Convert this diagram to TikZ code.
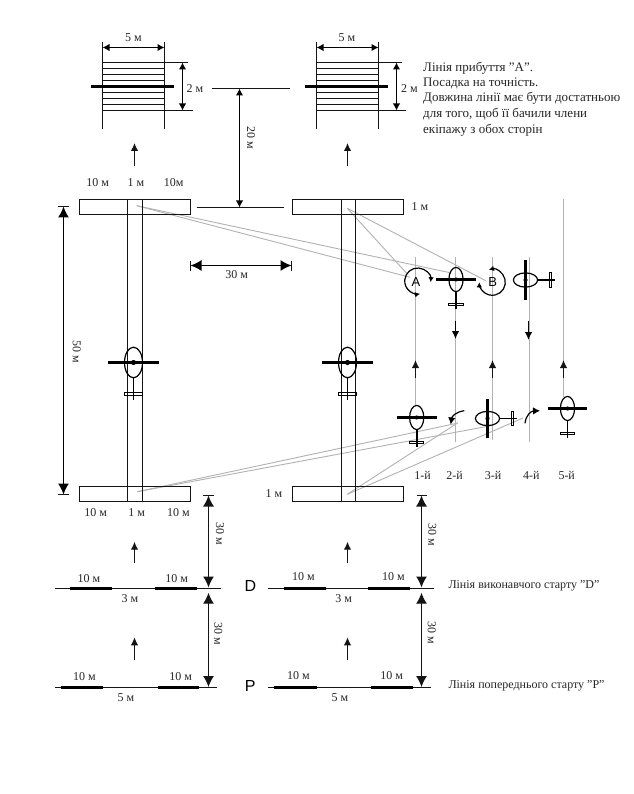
\documentclass[tikz,border=0pt]{standalone}
\usepackage{fontspec}
\setmainfont{Liberation Serif}[Ligatures=ResetAll]
\setsansfont{Liberation Sans}
\usetikzlibrary{arrows.meta}
\definecolor{ink}{gray}{0.08}
\definecolor{guide}{gray}{0.70}
\tikzset{
  ln/.style={draw=ink,line width=1.25pt},
  thin guide/.style={draw=guide,line width=0.9pt},
  thick bar/.style={draw=black,line width=3.4pt},
  dimsmall/.style={draw=black,line width=1.2pt,{Latex[length=7pt,width=7.5pt]}-{Latex[length=7pt,width=7.5pt]}},
  dimbig/.style={draw=ink,line width=1.3pt,{Latex[length=11pt,width=11pt]}-{Latex[length=11pt,width=11pt]}},
  flow/.style={draw=ink,line width=1.3pt,-{Latex[length=8pt,width=7.5pt]}},
  turn/.style={draw=black,line width=1.2pt,-{Latex[length=7pt,width=7.5pt]}},
  circ/.style={draw=black,line width=1.2pt,{Latex[length=5pt,width=5.5pt]}-{Latex[length=5pt,width=5.5pt]}},
  lab/.style={inner sep=0pt,font=\fontsize{12}{14}\selectfont,text=black!85},
  para/.style={inner sep=0pt,anchor=west,font=\fontsize{13}{15}\selectfont,text=black!85},
  sym/.style={inner sep=0pt,font=\sffamily\fontsize{16}{18}\selectfont},
  letter/.style={inner sep=0pt,font=\sffamily\fontsize{13}{15}\selectfont},
  planeup/.pic={
    \draw[draw=black,line width=1.2pt] (0,0) ellipse [x radius=9pt,y radius=15.3pt];
    \draw[draw=black,line width=1.7pt] (0,15.3) -- (0,37);
    \draw[draw=black,line width=1.1pt] (-9,30) rectangle (9,33);
    \draw[thick bar,line width=3pt] (-25.2,0) -- (25.2,0);
    \fill[black] (0,0) circle (2.6pt);
  },
  rungs/.pic={
    \draw[ln] (0,0) -- (0,86.5) (62,0) -- (62,86.5);
    \foreach \yy in {20,26,32,38,50,56,62,68} \draw[ln] (0,\yy) -- (62,\yy);
    \draw[thick bar,line width=2.2pt] (-11.5,44) -- (71.5,44);
  }
}
\begin{document}
\begin{tikzpicture}[x=1pt,y=-1pt]
\path[fill=white] (0,0) rectangle (633,794);
\useasboundingbox (0,0) rectangle (633,794);

% guide lines
\foreach \xa/\ya/\yb in {415.5/256.7/405,455.5/256.7/441.7,492.5/256.7/440,529.5/256.7/441.7,563.5/199.3/397}
  \draw[thin guide] (\xa,\ya) -- (\xa,\yb);
\coordinate (tl) at (136.7,205.7);
\coordinate (tr) at (347.3,208.3);
\coordinate (bl) at (137.3,491.7);
\coordinate (br) at (347.3,494.3);
\draw[thin guide] (tl) -- (450,272.7);
\draw[thin guide] (tl) -- (410,277.3);
\draw[thin guide] (tr) -- (485.7,280.7);
\draw[thin guide] (tr) -- (406.7,273.3);
\draw[thin guide] (bl) -- (456.7,423.3);
\draw[thin guide] (bl) -- (493,425.3);
\draw[thin guide] (br) -- (458,422.7);
\draw[thin guide] (br) -- (523,418);

% arrival grids
\pic at (102.5,42.5) {rungs};
\pic at (316.5,42.5) {rungs};
\draw[dimsmall] (102.5,47.5) -- (164.5,47.5);
\draw[dimsmall] (316.5,47.5) -- (378.5,47.5);
\node[lab] (w1) at (133.5,38) {5 м};
\node[lab] (w2) at (347,38) {5 м};
\draw[ln] (164.5,62.5) -- (188,62.5) (164.5,110.5) -- (192.7,110.5);
\draw[ln] (378.5,62.5) -- (401.7,62.5) (378.5,110.5) -- (406,110.5);
\draw[dimsmall] (182.5,62.5) -- (182.5,110.5);
\draw[dimsmall] (396.5,62.5) -- (396.5,110.5);
\node[lab] (h1) at (195,88.5) {2 м};
\node[lab] (h2) at (409.5,88.5) {2 м};

% note
\node[para] (n1) at (423,68) {Лінія прибуття "А".};
\node[para] (n2) at (423,83) {Посадка на точність.};
\node[para] (n3) at (423,98.5) {Довжина лінії має бути достатньою};
\node[para] (n4) at (423,114) {для того, щоб її бачили члени};
\node[para] (n5) at (423,130) {екіпажу з обох сторін};

% 20 m
\draw[ln] (211.7,88.5) -- (290,88.5);
\draw[ln] (196.7,207.5) -- (284,207.5);
\draw[dimsmall] (239.5,88.5) -- (239.5,207.5);
\node[lab,rotate=-90] (d20) at (251,138) {20 м};

% flow arrows top
\draw[flow] (134.5,166) -- (134.5,143);
\draw[flow] (347.5,166) -- (347.5,143);
\node[lab] (a1) at (97.7,183) {10 м};
\node[lab] (a2) at (136,183) {1 м};
\node[lab] (a3) at (173.6,183) {10м};

% runways
\foreach \xs in {79.5,292.5}{
  \draw[ln] (\xs,199.5) rectangle ++(111,15);
  \draw[ln] (\xs,486.5) rectangle ++(111,15);
}
\draw[ln] (127.5,199.5) -- (127.5,501.5) (142.5,199.5) -- (142.5,501.5);
\draw[ln] (341.5,199.5) -- (341.5,501.5) (355.5,199.5) -- (355.5,501.5);
\node[lab] (o1) at (420,207) {1 м};
\node[lab] (o2) at (274,494) {1 м};

% 50 and 30
\draw[dimbig,draw=black] (63.5,206.5) -- (63.5,494.5);
\draw[ln] (57.5,206.5) -- (69,206.5) (57.5,494.5) -- (69,494.5);
\node[lab,rotate=-90] (d50) at (76.7,351.7) {50 м};
\draw[dimbig,draw=black] (190.5,265.5) -- (291.5,265.5);
\draw[ln] (190.5,260.5) -- (190.5,271) (291.5,260.5) -- (291.5,271);
\node[lab] (d30) at (236.7,274.5) {30 м};

% planes on runways
\pic at (133.5,362.5) {planeup};
\pic at (347.5,362.5) {planeup};

% upper manoeuvre
\pic[scale=0.79] at (456,279.5) {planeup};
\pic[scale=0.79,rotate=90] at (525.5,280) {planeup};
\node[letter] (A) at (416,282) {A};
\node[letter] (B) at (492.7,282.3) {B};
\draw[circ] (417.7,281) ++(-5:13pt) arc[start angle=-5,end angle=280,radius=13pt];
\draw[circ] (492.3,282.3) ++(105:13pt) arc[start angle=105,end angle=-180,radius=13pt];
\draw[flow,draw=black] (455.5,320.7) -- (455.5,339);
\draw[flow,draw=black] (528.5,320.7) -- (528.5,340);

% lower manoeuvre
\draw[flow] (415.5,378) -- (415.5,360);
\draw[flow] (492.5,378) -- (492.5,360);
\draw[flow] (563.5,378) -- (563.5,360);
\pic[scale=0.79] at (416.7,417.5) {planeup};
\pic[scale=0.79,rotate=90] at (487.5,418.5) {planeup};
\pic[scale=0.79] at (567.5,408.5) {planeup};
\draw[turn] (464.3,410.7) .. controls (456,412) and (452,416) .. (450.7,424.5);
\draw[turn] (525,423.3) .. controls (526,415) and (531,411) .. (540,410.7);
\node[lab] (t1) at (422.7,475) {1-й};
\node[lab] (t2) at (454.7,475) {2-й};
\node[lab] (t3) at (493,475) {3-й};
\node[lab] (t4) at (531.3,475) {4-й};
\node[lab] (t5) at (566.7,475) {5-й};

% labels under runway
\node[lab] (b1) at (95.7,512.7) {10 м};
\node[lab] (b2) at (136.7,512.7) {1 м};
\node[lab] (b3) at (178.3,512.7) {10 м};

% start lines left
\draw[ln] (55,588.5) -- (220.7,588.5);
\draw[thick bar] (70,588.5) -- (112,588.5) (155,588.5) -- (196.7,588.5);
\draw[ln] (55,687.5) -- (217.3,687.5);
\draw[thick bar] (60.7,687.5) -- (102.7,687.5) (157.7,687.5) -- (199.3,687.5);
\draw[flow] (134.5,563.3) -- (134.5,541.7);
\draw[flow] (134.5,660) -- (134.5,637.3);
\draw[dimbig] (208.5,495.5) -- (208.5,587.5);
\draw[ln] (203,495.5) -- (213.5,495.5);
\draw[dimbig] (208.5,592.7) -- (208.5,687);
\node[lab,rotate=-90] (s1) at (220,534) {30 м};
\node[lab,rotate=-90] (s2) at (218.3,633.3) {30 м};
\node[lab] (c1) at (89,579) {10 м};
\node[lab] (c2) at (176.7,579) {10 м};
\node[lab] (c3) at (130,598.3) {3 м};
\node[lab] (c4) at (84.3,676.7) {10 м};
\node[lab] (c5) at (180.7,676.7) {10 м};
\node[lab] (c6) at (126,697.3) {5 м};
\node[sym] (D) at (250.3,586) {D};
\node[sym] (P) at (250.3,686) {P};

% start lines right
\draw[ln] (268.3,588.5) -- (434,588.5);
\draw[thick bar] (284,588.5) -- (326,588.5) (368.3,588.5) -- (410.3,588.5);
\draw[ln] (268.3,687.5) -- (431,687.5);
\draw[thick bar] (274.3,687.5) -- (316.7,687.5) (371,687.5) -- (413.3,687.5);
\draw[flow] (347.5,563.3) -- (347.5,541.7);
\draw[flow] (347.5,660) -- (347.5,637.3);
\draw[dimbig] (421.5,495.5) -- (421.5,587.5);
\draw[ln] (416.5,495.5) -- (427,495.5);
\draw[dimbig] (421.5,592.7) -- (421.5,687);
\node[lab,rotate=-90] (s3) at (432.3,534.3) {30 м};
\node[lab,rotate=-90] (s4) at (431.7,632.3) {30 м};
\node[lab] (e1) at (303.3,576.7) {10 м};
\node[lab] (e2) at (393.3,576.7) {10 м};
\node[lab] (e3) at (343.7,599) {3 м};
\node[lab] (e4) at (298.3,676) {10 м};
\node[lab] (e5) at (391.7,676) {10 м};
\node[lab] (e6) at (340,698) {5 м};
\node[para,font=\fontsize{12}{14}\selectfont] (ld) at (448.3,586) {Лінія виконавчого старту "D"};
\node[para,font=\fontsize{12}{14}\selectfont] (lp) at (448.3,686) {Лінія попереднього старту "P"};
\end{tikzpicture}
\end{document}
